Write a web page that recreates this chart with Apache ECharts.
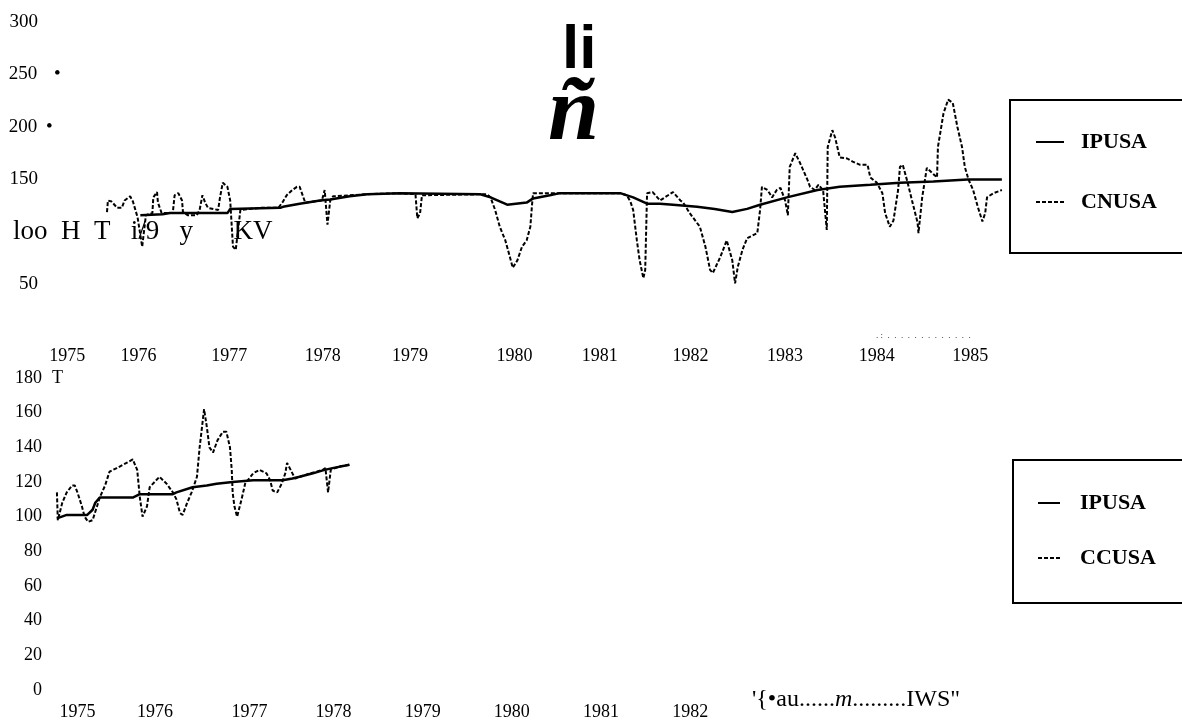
<!DOCTYPE html>
<html><head><meta charset="utf-8">
<script src="https://cdn.jsdelivr.net/npm/echarts@6/dist/echarts.min.js"></script>
<style>html,body{margin:0;padding:0;background:#fff}#c{width:1182px;height:724px}</style>
</head><body><div id="c"></div>
<script>
// ---- tick values / labels ----
const topXTickValues = [1975.25, 1976.02, 1977, 1978.01, 1978.95, 1980.08, 1981, 1981.98, 1983, 1983.99, 1985];
const topXTickLabels = ['1975','1976','1977','1978','1979','1980','1981','1982','1983','1984','1985'];
const topYTicks = [0, 50, 100, 150, 200, 250, 300];
const topYLabels = ['', '50', 'loo  H  T   i/9   y      KV', '150', '200 •', '250 •', '300'];
const bottomXTickValues = [1975.13, 1976, 1977.06, 1978, 1979, 1980, 1981, 1982];
const bottomXTickLabels = ['1975','1976','1977','1978','1979','1980','1981','1982'];
const bottomYTicks = [0, 20, 40, 60, 80, 100, 120, 140, 160, 180];
const bottomYLabels = ['0','20','40','60','80','100','120','140','160','180 T'];

// ---- series (year, value) ----
const ipusaTop = [[1976.04,116],[1976.28,117],[1976.36,118],[1976.98,118],[1977.01,122],[1977.55,123],[1977.58,124],[1977.76,127],[1977.98,130],[1978.09,131],[1978.30,134],[1978.49,136],[1978.84,137],[1979.71,136],[1979.82,133],[1980.00,126],[1980.21,128],[1980.28,132],[1980.46,135],[1980.57,137],[1981.22,137],[1981.36,133],[1981.51,127],[1981.65,127],[1981.79,126],[1982.05,124],[1982.24,122],[1982.43,119],[1982.59,122],[1982.73,126],[1983.02,133],[1983.35,140],[1983.59,143],[1983.92,145],[1984.24,147],[1984.60,148],[1984.97,150],[1985.34,150]];
const cnusaTop = [[1975.68,119],[1975.69,130],[1975.73,129],[1975.79,123],[1975.84,123],[1975.87,130],[1975.93,134],[1975.96,129],[1976.01,114],[1976.06,86],[1976.10,116],[1976.17,118],[1976.18,133],[1976.22,138],[1976.23,128],[1976.27,118],[1976.39,118],[1976.41,135],[1976.45,137],[1976.49,130],[1976.50,119],[1976.55,116],[1976.65,116],[1976.68,121],[1976.71,135],[1976.74,128],[1976.77,123],[1976.88,121],[1976.90,133],[1976.93,147],[1976.98,143],[1977.01,130],[1977.04,86],[1977.07,83],[1977.12,121],[1977.33,123],[1977.53,123],[1977.58,129],[1977.62,135],[1977.68,140],[1977.73,143],[1977.76,143],[1977.82,128],[1978.00,130],[1978.03,140],[1978.06,107],[1978.09,130],[1978.12,134],[1978.49,136],[1978.84,137],[1979.01,136],[1979.03,113],[1979.06,118],[1979.08,135],[1979.78,136],[1979.82,133],[1979.87,121],[1979.92,105],[1979.98,92],[1980.03,76],[1980.06,66],[1980.11,73],[1980.16,86],[1980.21,92],[1980.25,105],[1980.27,128],[1980.28,137],[1981.22,137],[1981.29,135],[1981.33,129],[1981.36,121],[1981.40,92],[1981.43,73],[1981.47,56],[1981.49,64],[1981.51,137],[1981.57,138],[1981.65,130],[1981.79,138],[1981.87,130],[1981.90,128],[1981.97,118],[1982.08,105],[1982.14,86],[1982.19,64],[1982.22,61],[1982.30,76],[1982.37,92],[1982.43,73],[1982.46,51],[1982.49,67],[1982.54,83],[1982.59,94],[1982.70,99],[1982.73,121],[1982.75,143],[1982.81,140],[1982.86,133],[1982.91,140],[1982.95,142],[1983.00,130],[1983.03,116],[1983.05,162],[1983.11,175],[1983.16,166],[1983.24,150],[1983.27,143],[1983.32,140],[1983.36,145],[1983.41,140],[1983.45,102],[1983.46,181],[1983.51,197],[1983.54,190],[1983.59,171],[1983.67,170],[1983.73,167],[1983.81,164],[1983.89,164],[1983.92,152],[1983.99,147],[1984.05,137],[1984.08,118],[1984.13,105],[1984.17,111],[1984.22,140],[1984.24,162],[1984.27,164],[1984.32,148],[1984.37,130],[1984.43,109],[1984.44,99],[1984.48,133],[1984.53,161],[1984.59,156],[1984.64,152],[1984.65,181],[1984.71,213],[1984.76,226],[1984.81,223],[1984.86,200],[1984.91,181],[1984.94,162],[1984.98,150],[1985.03,140],[1985.08,124],[1985.13,110],[1985.16,118],[1985.18,133],[1985.25,137],[1985.34,140]];
const ipusaBottom = [[1974.90,99],[1974.91,100],[1975.01,101],[1975.24,101],[1975.30,104],[1975.33,108],[1975.38,111],[1975.75,111],[1975.83,113],[1976.20,113],[1976.24,114],[1976.42,117],[1976.58,118],[1976.69,119],[1976.87,120],[1977.10,121],[1977.43,121],[1977.54,122],[1977.62,123],[1977.77,125],[1977.90,127],[1977.99,128],[1978.18,130]];
const ccusaBottom = [[1974.90,114],[1974.91,98],[1974.96,108],[1975.01,114],[1975.07,118],[1975.10,118],[1975.13,114],[1975.18,106],[1975.21,100],[1975.25,97],[1975.30,98],[1975.35,106],[1975.38,111],[1975.44,118],[1975.49,126],[1975.57,128],[1975.68,131],[1975.75,133],[1975.80,127],[1975.83,111],[1975.86,100],[1975.91,106],[1975.94,117],[1976.05,123],[1976.13,119],[1976.20,114],[1976.24,110],[1976.28,102],[1976.31,101],[1976.36,108],[1976.41,114],[1976.47,123],[1976.50,140],[1976.55,162],[1976.58,152],[1976.61,140],[1976.65,137],[1976.70,144],[1976.76,149],[1976.80,149],[1976.84,140],[1976.86,127],[1976.87,114],[1976.89,106],[1976.92,100],[1976.97,110],[1977.01,119],[1977.10,125],[1977.17,127],[1977.25,125],[1977.29,121],[1977.32,115],[1977.37,114],[1977.42,119],[1977.46,125],[1977.48,131],[1977.57,122],[1977.74,125],[1977.88,127],[1977.91,128],[1977.94,114],[1977.97,127],[1978.07,129],[1978.18,130]];

// ---- chart ----
const serif = '"Liberation Serif", "Times New Roman", serif';
function nearest(vals, labels, v) {
  let best = 0, d = Infinity;
  for (let i = 0; i < vals.length; i++) { const dd = Math.abs(vals[i] - v); if (dd < d) { d = dd; best = i; } }
  return labels[best];
}
const chart = echarts.init(document.getElementById('c'), null, { renderer: 'canvas' });
const noLine = { show: false };
const legendText = pad => ({ rich: { t: { fontFamily: serif, fontWeight: 'bold', fontSize: 22, color: '#000', lineHeight: 22, padding: [0, 0, 0, pad] } } });
const option = {
  animation: false,
  backgroundColor: '#fff',
  grid: [
    { left: 44, top: 22, width: 1019, height: 315 },
    { left: 48, top: 378, width: 999, height: 312 }
  ],
  xAxis: [
    { gridIndex: 0, type: 'value', min: 1975, max: 1986,
      axisLine: noLine, axisTick: noLine, splitLine: noLine,
      axisLabel: { customValues: topXTickValues, formatter: v => nearest(topXTickValues, topXTickLabels, v),
        fontFamily: serif, fontSize: 18, color: '#000', margin: 10 } },
    { gridIndex: 1, type: 'value', min: 1974.8, max: 1986,
      axisLine: noLine, axisTick: noLine, splitLine: noLine,
      axisLabel: { customValues: bottomXTickValues, formatter: v => nearest(bottomXTickValues, bottomXTickLabels, v),
        fontFamily: serif, fontSize: 18, color: '#000', margin: 13 } }
  ],
  yAxis: [
    { gridIndex: 0, type: 'value', min: 0, max: 300, interval: 50,
      axisLine: noLine, axisTick: noLine, splitLine: noLine,
      axisLabel: { align: 'left', margin: 36, color: '#000', fontFamily: serif, fontSize: 19,
        formatter: v => {
          const s = nearest(topYTicks, topYLabels, v);
          if (s === '') return '';
          if (v === 100) return '{b|' + s + '}';
          if (s.indexOf('•') >= 0) {
            const num = s.split(' ')[0];
            return '{n|' + num + '}{' + (v === 250 ? 'd1' : 'd2') + '|•}';
          }
          return '{n|' + s + '}';
        },
        rich: {
          n: { width: 30, align: 'right', fontFamily: serif, fontSize: 19, color: '#000' },
          b: { fontFamily: serif, fontSize: 27, color: '#000', padding: [0, 0, 0, 5] },
          d1: { fontFamily: serif, fontSize: 19, color: '#000', padding: [0, 0, 0, 16] },
          d2: { fontFamily: serif, fontSize: 19, color: '#000', padding: [0, 0, 0, 8] }
        } } },
    { gridIndex: 1, type: 'value', min: 0, max: 180, interval: 20,
      axisLine: noLine, axisTick: noLine, splitLine: noLine,
      axisLabel: { align: 'left', margin: 33, color: '#000', fontFamily: serif, fontSize: 18,
        formatter: v => {
          const s = nearest(bottomYTicks, bottomYLabels, v);
          const parts = s.split(' ');
          return '{n|' + parts[0] + '}' + (parts[1] ? '{t|' + parts[1] + '}' : '');
        },
        rich: {
          n: { width: 27, align: 'right', fontFamily: serif, fontSize: 18, color: '#000' },
          t: { fontFamily: serif, fontSize: 18, color: '#000', padding: [0, 0, 0, 10] }
        } } }
  ],
  legend: [
    { data: ['IPUSA', 'CNUSA'], orient: 'vertical', left: 1010, top: 100,
      padding: [31, 40, 40, 25], itemGap: 38, itemWidth: 28, itemHeight: 14,
      borderColor: '#000', borderWidth: 2, selectedMode: false,
      itemStyle: { opacity: 0 }, lineStyle: { width: 2 },
      formatter: n => '{t|' + n + '}', textStyle: legendText(12) },
    { data: ['IPUSA', 'CCUSA'], orient: 'vertical', left: 1013, top: 460,
      padding: [32, 40, 34, 24], itemGap: 33, itemWidth: 22, itemHeight: 14,
      borderColor: '#000', borderWidth: 2, selectedMode: false,
      itemStyle: { opacity: 0 }, lineStyle: { width: 2 },
      formatter: n => '{t|' + n + '}', textStyle: legendText(15) }
  ],
  graphic: [
    { type: 'text', x: 562, y: 51, style: { text: 'li', font: 'bold 62px "Liberation Sans", Arial, sans-serif', fill: '#000', verticalAlign: 'middle' } },
    { type: 'text', x: 548, y: 115, style: { text: 'ñ', font: 'italic bold 92px "Liberation Serif", serif', fill: '#000', verticalAlign: 'middle' } },
    { type: 'text', x: 752, y: 700, style: { text: "'{•au......{i|m}.........IWS\"", font: '24px "Liberation Serif", serif', fill: '#000', verticalAlign: 'middle',
        rich: { i: { fontStyle: 'italic', fontFamily: serif, fontSize: 24, fill: '#000' } } } },
    { type: 'text', x: 876, y: 336, style: { text: '. :  .  .  .  .  .  .  .  .  .  .  .  .  .', font: '9px "Liberation Serif", serif', fill: '#000', verticalAlign: 'middle' } }
  ],
  series: [
    { name: 'IPUSA', type: 'line', xAxisIndex: 0, yAxisIndex: 0, data: ipusaTop, symbol: 'none', color: '#000',
      lineStyle: { color: '#000', width: 2.5 }, z: 3 },
    { name: 'CNUSA', type: 'line', xAxisIndex: 0, yAxisIndex: 0, data: cnusaTop, symbol: 'none', color: '#000',
      lineStyle: { color: '#000', width: 2, type: [4, 2] }, z: 2 },
    { name: 'IPUSA', type: 'line', xAxisIndex: 1, yAxisIndex: 1, data: ipusaBottom, symbol: 'none', color: '#000',
      lineStyle: { color: '#000', width: 2.5 }, z: 3 },
    { name: 'CCUSA', type: 'line', xAxisIndex: 1, yAxisIndex: 1, data: ccusaBottom, symbol: 'none', color: '#000',
      lineStyle: { color: '#000', width: 2, type: [4, 2] }, z: 2 }
  ]
};
chart.setOption(option);
</script>
</body></html>
